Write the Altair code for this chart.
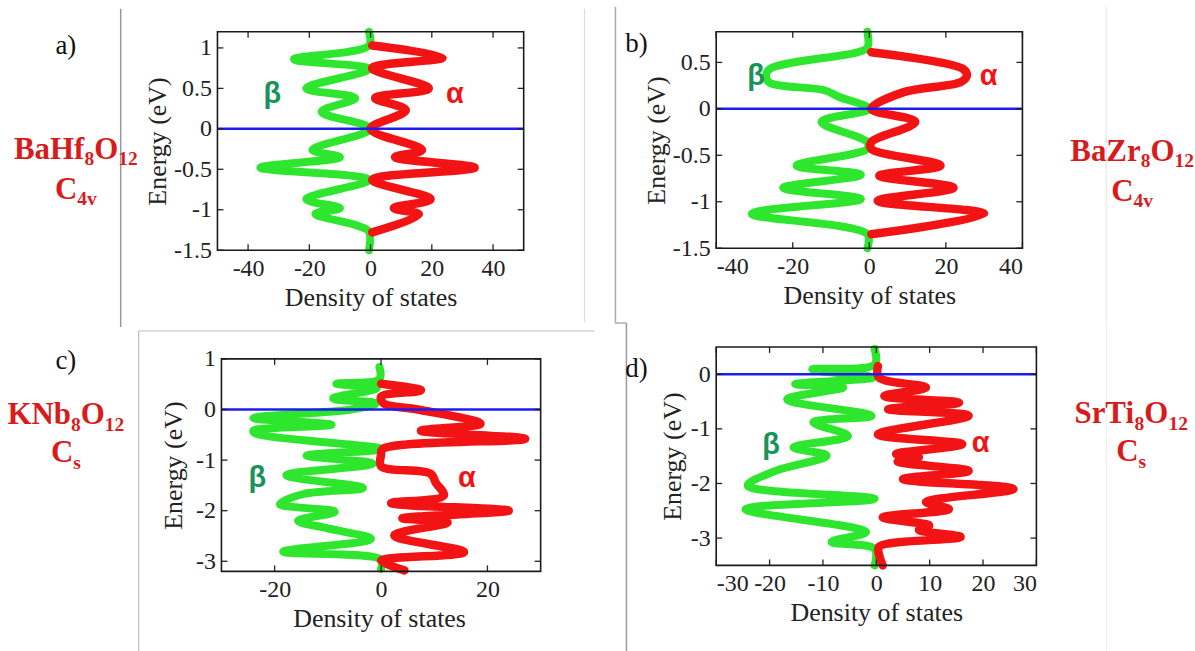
import altair as alt
import pandas as pd

# ------------------------------------------------------------------ data
FERMI = [0.0]

A_BETA_DOS = [-0.5, -0.5, -25, -0.5, -21, -5, -16, 0, -19, -10, -36, -0.5, -21, -10, -18, -4, -0.5, -0.5]
A_BETA_E = [1.2, 1.03, 0.86, 0.74, 0.5, 0.38, 0.21, 0.0, -0.26, -0.35, -0.48, -0.63, -0.87, -0.98, -1.05, -1.2, -1.27, -1.5]
A_ALPHA_DOS = [0.5, 23.5, 0.5, 19, 1.5, 11.5, 0, 16.8, 8, 34, 0.5, 19.6, 7.6, 15.8, 0.5]
A_ALPHA_E = [1.03, 0.88, 0.75, 0.5, 0.38, 0.23, 0.0, -0.26, -0.35, -0.48, -0.63, -0.87, -0.98, -1.06, -1.28]

B_BETA_DOS = [-0.5, -0.5, -3, -26, -27, -26, -11.7, -8, 0, -12.5, -0.5, -0.5, -19, -2.2, -22.5, -2.2, -30.7, -0.5, -0.5]
B_BETA_E = [0.83, 0.66, 0.61, 0.43, 0.35, 0.28, 0.2, 0.13, 0.0, -0.14, -0.36, -0.43, -0.61, -0.71, -0.85, -0.97, -1.13, -1.35, -1.5]
B_ALPHA_DOS = [0.5, 24.5, 25.5, 24, 9, 0.5, 12, 0.5, 0.5, 18.6, 2.6, 22, 2.2, 30, 0.5]
B_ALPHA_E = [0.61, 0.43, 0.36, 0.29, 0.18, 0.0, -0.14, -0.36, -0.43, -0.61, -0.72, -0.85, -0.99, -1.13, -1.35]

C_BETA_DOS = [-0.3, -0.3, -8.4, -0.8, -9, -1, -5.6, -24, -9.3, -24, -23.5, 0, -14, -1.6, -17.8, -3.4, -14.6, -19, -8.7, -15.6, -10, -1.9, -18.4, 0, 0]
C_BETA_E = [0.84, 0.6, 0.51, 0.42, 0.22, 0.12, 0.0, -0.17, -0.3, -0.42, -0.48, -0.78, -0.91, -1.07, -1.3, -1.55, -1.67, -1.87, -2.02, -2.2, -2.35, -2.56, -2.81, -2.97, -3.15]
C_ALPHA_DOS = [0, 7.5, 0, 0.5, 6.9, 18.7, 7.5, 27.1, 0.3, 0, 0, 9.3, 10.3, 11.8, 1.9, 24, 4, 12.5, 2.5, 15.6, 0, 4.4]
C_ALPHA_E = [0.51, 0.38, 0.25, 0.12, 0.0, -0.28, -0.42, -0.58, -0.78, -0.9, -1.12, -1.27, -1.45, -1.7, -1.85, -2.0, -2.15, -2.23, -2.49, -2.82, -2.99, -3.18]

D_BETA_DOS = [-0.3, -0.3, -12, -0.6, -15.2, -6.2, -16.7, -0.9, -11.8, -5.3, -15.5, -9.3, -18.9, -24.1, -0.3, -24.5, -1.9, -8.4, -0.3, -0.3]
D_BETA_E = [0.46, 0.18, 0.09, -0.06, -0.18, -0.24, -0.46, -0.76, -0.88, -1.13, -1.34, -1.49, -1.77, -2.04, -2.28, -2.47, -2.89, -3.07, -3.2, -3.5]
D_ALPHA_DOS = [0.3, 0.5, 9.3, 1.5, 15.5, 2.2, 17.3, 0.3, 16.1, 3.7, 8, 4, 17.3, 5, 25.7, 9.3, 13.6, 1.2, 9.9, 8, 15.8, 0.5, 0.5, 1.2]
D_ALPHA_E = [0.15, -0.06, -0.24, -0.4, -0.52, -0.64, -0.76, -1.1, -1.28, -1.46, -1.52, -1.6, -1.77, -1.92, -2.1, -2.34, -2.47, -2.62, -2.77, -2.85, -2.98, -3.16, -3.3, -3.5]

A_XTICKS = [-40, -20, 0, 20, 40]
A_YTICKS = [-1.5, -1, -0.5, 0, 0.5, 1]
B_XTICKS = [-40, -20, 0, 20, 40]
B_YTICKS = [-1.5, -1, -0.5, 0, 0.5]
C_XTICKS = [-20, 0, 20]
C_YTICKS = [-3, -2, -1, 0, 1]
D_XTICKS = [-30, -20, -10, 0, 10, 20, 30]
D_YTICKS = [-3, -2, -1, 0]

# ------------------------------------------------------------------ style
GREEN = "#2fe62f"
RED = "#f21414"
BLUE = "#1d1df0"
DKGREEN = "#17945a"
FORMULA_RED = "#d81c1c"
SERIF = "Liberation Serif"
SANS = "Liberation Sans"
ONE = alt.Data(values=[{"k": 0}])

TIMES_BOLD = {"B": .667, "a": .5, "H": .778, "f": .333, "Z": .667, "r": .444, "K": .778,
              "N": .722, "b": .556, "S": .556, "T": .667, "i": .278, "O": .778, "C": .722,
              "v": .5, "s": .389}


def tw(s, size):
    return sum(TIMES_BOLD.get(c, 0.5) for c in s) * size


def text_layer(t, x, y, size, font=SERIF, weight="normal", color="#111",
               align="center", baseline="middle"):
    return alt.Chart(ONE).mark_text(
        text=t, font=font, fontSize=size, fontWeight=weight, color=color,
        align=align, baseline=baseline
    ).encode(x=alt.value(x), y=alt.value(y))


def formula_layers(parts, cx, cy, size=31, color=FORMULA_RED):
    sub = size * 0.63
    widths = [tw(t, sub if s else size) for t, s in parts]
    x = cx - sum(widths) / 2
    base_y = cy + 0.33 * size
    out = []
    for (t, s), wd in zip(parts, widths):
        fs = sub if s else size
        yy = base_y + (0.22 * size if s else 0)
        out.append(text_layer(t, x, yy, fs, weight="bold", color=color,
                              align="left", baseline="alphabetic"))
        x += wd
    return out


def vline(x, y1, y2, color="#aaaaaa", w=1.2):
    return alt.Chart(ONE).mark_rule(color=color, strokeWidth=w).encode(
        x=alt.value(x), y=alt.value(y1), y2=alt.value(y2))


def hline(x1, x2, y, color="#aaaaaa", w=1.2):
    return alt.Chart(ONE).mark_rule(color=color, strokeWidth=w).encode(
        x=alt.value(x1), x2=alt.value(x2), y=alt.value(y))


LABEL_EXPR = "datum.value < 0 ? '-' + format(-datum.value, '~g') : format(datum.value, '~g')"


def panel(bD, bE, aD, aE, xdom, ydom, xticks, yticks, w, h, extras, ox=0, oy=0,
          title_y=None, ytitle_pad=3):
    """ox/oy: offset of the drawn frame inside the view (view grows by ox, oy)."""
    xs = alt.Scale(domain=xdom, nice=False, zero=False)
    ys = alt.Scale(domain=ydom, nice=False, zero=False)
    yaxis_kw = dict(values=yticks, title="Energy (eV)", labelExpr=LABEL_EXPR,
                    labelPadding=6 - ox, titlePadding=ytitle_pad + ox)
    if title_y is not None:
        yaxis_kw["titleY"] = title_y
    xenc = alt.X("D:Q", scale=xs, axis=alt.Axis(values=xticks, title="Density of states",
                                                labelExpr=LABEL_EXPR, labelPadding=6,
                                                titlePadding=4))
    yenc = alt.Y("E:Q", scale=ys, axis=alt.Axis(**yaxis_kw))
    line_kw = dict(strokeJoin="round", strokeCap="round", interpolate="catmull-rom")
    beta = alt.Chart(pd.DataFrame({"D": bD, "E": bE, "i": range(len(bD))})).mark_line(
        color=GREEN, strokeWidth=8, **line_kw
    ).encode(x=xenc, y=yenc, order="i:Q")
    alpha = alt.Chart(pd.DataFrame({"D": aD, "E": aE, "i": range(len(aD))})).mark_line(
        color=RED, strokeWidth=8.5, **line_kw
    ).encode(x=xenc, y=yenc, order="i:Q")
    zero = alt.Chart(pd.DataFrame({"E": FERMI})).mark_rule(color=BLUE, strokeWidth=2.5).encode(
        y=yenc, x=alt.value(ox), x2=alt.value(w))
    xt = pd.DataFrame({"D": xticks})
    yt = pd.DataFrame({"E": yticks})
    tk = dict(color="#222", strokeWidth=1.3)
    t1 = alt.Chart(xt).mark_rule(**tk).encode(x=xenc, y=alt.value(h), y2=alt.value(h - 6))
    t2 = alt.Chart(xt).mark_rule(**tk).encode(x=xenc, y=alt.value(oy), y2=alt.value(oy + 6))
    t3 = alt.Chart(yt).mark_rule(**tk).encode(y=yenc, x=alt.value(ox), x2=alt.value(ox + 6))
    t4 = alt.Chart(yt).mark_rule(**tk).encode(y=yenc, x=alt.value(w), x2=alt.value(w - 6))
    frame = alt.Chart(ONE).mark_rect(filled=False, stroke="#1a1a1a", strokeWidth=1.6).encode(
        x=alt.value(ox), x2=alt.value(w), y=alt.value(oy), y2=alt.value(h))
    return alt.layer(beta, alpha, zero, t1, t2, t3, t4, frame, *extras).properties(
        width=w, height=h)


# panel a  (frame origin at 217,30)
a_extras = [
    hline(-217, -215, -30, color="white", w=1),
    vline(-97, -23, 296, color="#999999", w=1.5),
    vline(368, -23, 291, color="#dddddd", w=1.2),
    text_layer("a)", -152, 14, 27),
    text_layer("β", 55, 62, 29, font=SANS, weight="bold", color=DKGREEN),
    text_layer("α", 238, 62, 29, font=SANS, weight="bold", color=RED),
] + formula_layers([("BaHf", 0), ("8", 1), ("O", 0), ("12", 1)], -142, 117) \
  + formula_layers([("C", 0), ("4v", 1)], -142, 157)

# panel b  (frame origin at 717,30)
b_extras = [
    vline(-101, -25, 291, color="#aaaaaa", w=1.5),
    vline(391, -25, 291, color="#e6e6e6", w=1.2),
    text_layer("b)", -80, 12, 27),
    text_layer("β", 40, 44, 29, font=SANS, weight="bold", color=DKGREEN),
    text_layer("α", 273, 44, 29, font=SANS, weight="bold", color=RED),
] + formula_layers([("BaZr", 0), ("8", 1), ("O", 0), ("12", 1)], 417, 119) \
  + formula_layers([("C", 0), ("4v", 1)], 417, 159)

# panel c  (view origin at 217,346; frame origin at 221,358)
CX, CY = 4, 12
c_extras = [
    hline(-83 + CX, 374 + CX, -28 + CY, color="#bbbbbb", w=1.2),
    vline(-83 + CX, -28 + CY, 295 + CY, color="#bbbbbb", w=1.2),
    text_layer("c)", -156 + CX, 2 + CY, 27),
    text_layer("β", 36 + CX, 119 + CY, 29, font=SANS, weight="bold", color=DKGREEN),
    text_layer("α", 246 + CX, 119 + CY, 29, font=SANS, weight="bold", color=RED),
] + formula_layers([("KNb", 0), ("8", 1), ("O", 0), ("12", 1)], -156 + CX, 55 + CY) \
  + formula_layers([("C", 0), ("s", 1)], -156 + CX, 93 + CY)

# panel d  (frame origin at 717,346)
d_extras = [
    vline(-90, -24, 306, color="#999999", w=1.5),
    hline(-102, -90, -24, color="#999999", w=1.2),
    vline(391, -26, 306, color="#eeeeee", w=1.2),
    text_layer("d)", -80, 22, 27),
    text_layer("β", 55, 98, 29, font=SANS, weight="bold", color=DKGREEN),
    text_layer("α", 265, 96, 29, font=SANS, weight="bold", color=RED),
] + formula_layers([("SrTi", 0), ("8", 1), ("O", 0), ("12", 1)], 416, 66) \
  + formula_layers([("C", 0), ("s", 1)], 416, 104)

C_PXU_X = 320 / 60.0     # px per DOS unit in panel c
C_PXU_Y = 213 / 4.2      # px per eV in panel c

pa = panel(A_BETA_DOS, A_BETA_E, A_ALPHA_DOS, A_ALPHA_E, [-50, 50], [-1.5, 1.2],
           A_XTICKS, A_YTICKS, 307, 219, a_extras)
pb = panel(B_BETA_DOS, B_BETA_E, B_ALPHA_DOS, B_ALPHA_E, [-40, 40], [-1.5, 0.83],
           B_XTICKS, B_YTICKS, 307, 217, b_extras)
pc = panel(C_BETA_DOS, C_BETA_E, C_ALPHA_DOS, C_ALPHA_E,
           [-30 - CX / C_PXU_X, 30], [-3.2, 1.0 + CY / C_PXU_Y],
           C_XTICKS, C_YTICKS, 320 + CX, 213 + CY, c_extras, ox=CX, oy=CY,
           title_y=CY + 213 / 2, ytitle_pad=5)
pd_ = panel(D_BETA_DOS, D_BETA_E, D_ALPHA_DOS, D_ALPHA_E, [-30, 30], [-3.5, 0.5],
            D_XTICKS, D_YTICKS, 321, 219, d_extras, ytitle_pad=5)

chart = alt.concat(pa, pb, pc, pd_, columns=2, spacing=alt.RowColnumber(row=97, column=176),
                   bounds="flush", align="each").properties(
    padding=0
).configure(background="white").configure_view(stroke=None).configure_axis(
    domain=False, ticks=False, grid=False,
    labelFont=SERIF, labelFontSize=24, labelColor="#222",
    titleFont=SERIF, titleFontSize=26, titleFontWeight="normal", titleColor="#222"
)

chart.save("out.html", embed_options={"renderer": "svg", "actions": False})
